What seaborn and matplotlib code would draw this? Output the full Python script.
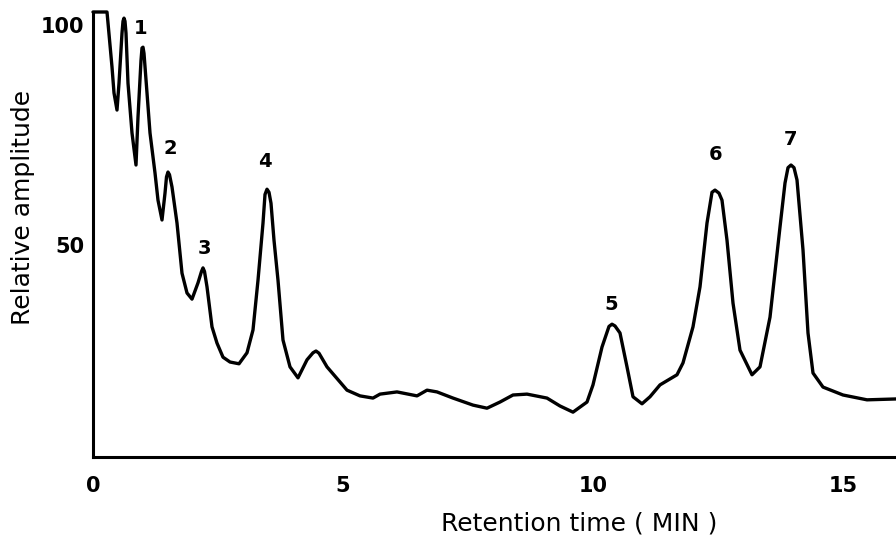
import numpy as np
import pandas as pd
import matplotlib
matplotlib.use("Agg")
import matplotlib.pyplot as plt
import seaborn as sns

# ---- data ----
time_min = [0.00, 0.28, 0.38, 0.42, 0.48, 0.52, 0.58, 0.60, 0.62, 0.64, 0.66, 0.70,
            0.78, 0.86, 0.90, 0.96, 0.98, 1.00, 1.02, 1.08, 1.14, 1.24, 1.30, 1.38,
            1.44, 1.47, 1.50, 1.53, 1.58, 1.68, 1.78, 1.88, 1.98, 2.10, 2.17, 2.20,
            2.23, 2.28, 2.38, 2.48, 2.60, 2.74, 2.92, 3.08, 3.20, 3.30, 3.40, 3.44,
            3.48, 3.52, 3.56, 3.62, 3.70, 3.80, 3.94, 4.10, 4.28, 4.40, 4.46, 4.52,
            4.68, 5.08, 5.34, 5.60, 5.74, 6.08, 6.48, 6.68, 6.88, 7.20, 7.60, 7.88,
            8.14, 8.40, 8.68, 9.08, 9.34, 9.60, 9.88, 10.00, 10.18, 10.32, 10.38, 10.44,
            10.54, 10.68, 10.80, 10.98, 11.14, 11.34, 11.68, 11.80, 12.00, 12.14, 12.28,
            12.38, 12.44, 12.52, 12.58, 12.68, 12.80, 12.94, 13.18, 13.34, 13.54, 13.74,
            13.84, 13.90, 13.96, 14.02, 14.08, 14.20, 14.30, 14.40, 14.60, 15.00, 15.48,
            16.06]
amplitude = [103.0, 103.0, 90.5, 84.6, 80.7, 86.8, 98.2, 100.9, 101.6, 100.9, 98.2, 86.8,
             75.5, 68.2, 79.1, 92.0, 94.8, 95.0, 93.6, 84.6, 75.5, 66.4, 60.2, 55.7,
             61.8, 65.5, 66.6, 66.0, 63.2, 55.0, 43.6, 39.1, 37.7, 41.4, 44.0, 44.8,
             44.0, 40.5, 31.4, 27.7, 24.5, 23.4, 23.0, 25.5, 30.7, 42.0, 55.0, 61.5,
             62.7, 62.0, 59.5, 51.1, 42.0, 28.4, 22.3, 19.8, 23.9, 25.5, 25.9, 25.4,
             22.3, 17.0, 15.7, 15.2, 16.1, 16.6, 15.7, 17.0, 16.6, 15.2, 13.6, 12.9,
             14.3, 15.9, 16.1, 15.2, 13.4, 12.0, 14.3, 18.2, 26.8, 31.5, 32.0, 31.6,
             30.0, 22.3, 15.5, 13.9, 15.5, 18.2, 20.5, 23.2, 31.4, 40.5, 55.0,
             62.0, 62.5, 61.8, 60.2, 51.1, 36.8, 26.1, 20.5, 22.3, 33.6, 54.1,
             64.1, 67.6, 68.2, 67.6, 64.8, 48.9, 30.0, 20.9, 17.7, 15.9, 14.8,
             15.0]

peak_names = ["1", "2", "3", "4", "5", "6", "7"]
peak_label_time = [0.96, 1.54, 2.22, 3.44, 10.36, 12.46, 13.94]
peak_label_amp = [99.3, 72.0, 49.3, 68.9, 36.4, 70.5, 73.9]

x_ticks = [0, 5, 10, 15]
x_tick_labels = ["0", "5", "10", "15"]
y_ticks = [50, 100]
y_tick_labels = ["50", "100"]

df = pd.DataFrame({"time": time_min, "amplitude": amplitude})

sns.set_style("white")
plt.rcParams["font.family"] = ["DejaVu Sans"]

fig = plt.figure(figsize=(8.96, 5.44), dpi=100)
ax = fig.add_axes([93 / 896, (544 - 457) / 544, 1 - 93 / 896, (457 - 12) / 544])

sns.lineplot(data=df, x="time", y="amplitude", sort=False, estimator=None,
             color="black", linewidth=2.4, ax=ax, clip_on=False)
for ln in ax.lines:
    ln.set_solid_joinstyle("round")
    ln.set_solid_capstyle("round")

for name, tx, ty in zip(peak_names, peak_label_time, peak_label_amp):
    ax.text(tx, ty, name, ha="center", va="center", fontsize=14,
            fontweight="bold", color="black")

ax.set_xlim(0, 16.06)
ax.set_ylim(1.8, 103.0)
ax.set_xticks(x_ticks)
ax.set_xticklabels(x_tick_labels)
ax.set_yticks(y_ticks)
ax.set_yticklabels(y_tick_labels)

ax.tick_params(axis="x", direction="in", length=4, width=1.5, pad=14,
               labelsize=15, colors="black")
ax.tick_params(axis="y", length=0, pad=6, labelsize=15, colors="black")
for lab in ax.get_xticklabels() + ax.get_yticklabels():
    lab.set_fontweight("bold")

for side in ["top", "right"]:
    ax.spines[side].set_visible(False)
for side in ["left", "bottom"]:
    ax.spines[side].set_linewidth(2.2)
    ax.spines[side].set_color("black")

ax.set_xlabel("Retention time ( MIN )", fontsize=18, color="black")
ax.set_ylabel("Relative amplitude", fontsize=18, color="black")
ax.xaxis.set_label_coords(0.606, -0.122)
ax.yaxis.set_label_coords(-0.072, 0.56)

fig.savefig("out.png", dpi=100)
